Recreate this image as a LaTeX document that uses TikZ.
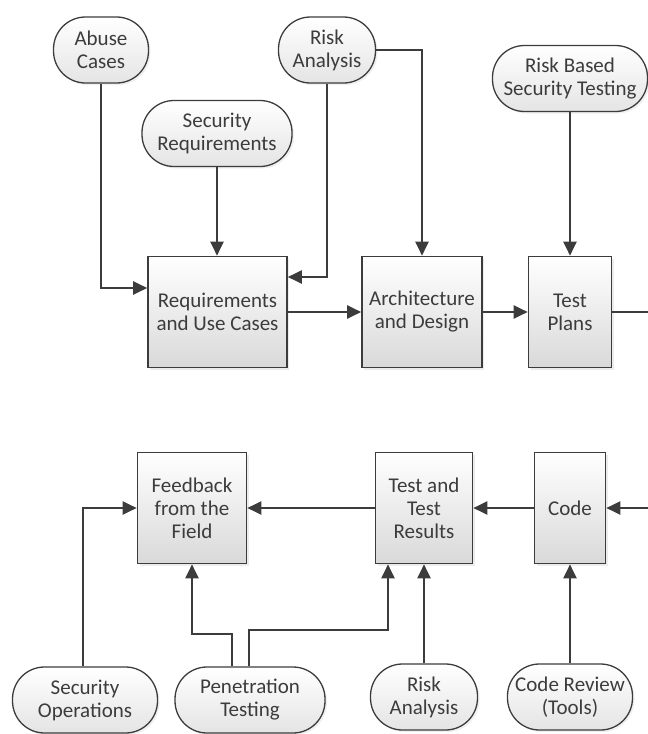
\documentclass[tikz,border=0pt]{standalone}
\usepackage{fontspec}
\setmainfont{Carlito}
\usepackage{tikz}
\usetikzlibrary{arrows.meta, positioning, shadows, calc}

\definecolor{linegray}{HTML}{3C3C3C}
\definecolor{shadegray}{HTML}{D9D9D9}

\tikzset{
  stage/.style={draw=linegray, line width=1.6pt, top color=white, bottom color=shadegray,
    drop shadow={opacity=0.15, shadow xshift=2pt, shadow yshift=-2pt},
    minimum height=111pt, inner sep=2pt, align=center, text=linegray},
  activity/.style={draw=linegray, line width=1.3pt, rounded corners=32pt, top color=white,
    bottom color=shadegray!70, drop shadow={opacity=0.12, shadow xshift=2pt, shadow yshift=-2pt},
    minimum height=66pt, inner sep=2pt, align=center, text=linegray}
}

\begin{document}
\begin{tikzpicture}[x=1pt, y=-1pt, ->, >={Triangle[length=14pt,width=13pt]}, line width=2pt,
    draw=linegray, font=\fontsize{21}{23}\selectfont]
      \useasboundingbox (0,0) rectangle (648,734);

      % top row
      \node[stage, minimum width=139pt] (req) at (217.5,312) {Requirements\\and Use Cases};
      \node[stage, minimum width=120pt] (arch) at (422,312) {Architecture\\and Design};
      \node[stage, minimum width=83pt] (plans) at (570,312) {Test\\Plans};

      \node[activity, minimum width=95pt] (abuse) at (101,50) {Abuse\\Cases};
      \node[activity, minimum width=150pt] (secreq) at (217,133.5) {Security\\Requirements};
      \node[activity, minimum width=97pt] (risktop) at (327,50) {Risk\\Analysis};
      \node[activity, minimum width=155pt] (rbst) at (570,78.5) {Risk Based\\Security Testing};

      % bottom row
      \node[stage, minimum width=109pt] (field) at (192,508) {Feedback\\from the\\Field};
      \node[stage, minimum width=97pt] (results) at (424,508) {Test and\\Test\\Results};
      \node[stage, minimum width=71pt] (code) at (570,508) {Code};

      \node[activity, minimum width=145pt] (secops) at (85,700) {Security\\Operations};
      \node[activity, minimum width=150pt] (pentest) at (250,700) {Penetration\\Testing};
      \node[activity, minimum width=107pt] (riskbot) at (424,697) {Risk\\Analysis};
      \node[activity, minimum width=125pt] (review) at (570,697) {Code Review\\(Tools)};

      \coordinate (outtop) at (648,312);
      \coordinate (inbot) at (648,508);

      \draw (abuse.south) |- ([yshift=24pt]req.west);
      \draw (secreq.south) -- (secreq.south |- req.north);
      \draw (risktop.south) |- ([yshift=35pt]req.east);
      \draw (risktop.east) -| (arch.north);
      \draw (rbst.south) -- (plans.north);
      \draw (req) -- (arch);
      \draw (arch) -- (plans);
      \draw[-] (plans.east) -- (outtop);

      \draw (inbot) -- (code.east);
      \draw (code) -- (results);
      \draw (results) -- (field);
      \draw ([xshift=-2pt]secops.north) |- (field.west);
      \draw ([xshift=-18pt]pentest.north) |- ($(field.south)+(0,70)$) -- (field.south);
      \draw ([xshift=-1pt]pentest.north) |- ($(results.south)+(-36,66)$) -- ([xshift=-36pt]results.south);
      \draw (riskbot.north) -- (results.south);
      \draw (review.north) -- (code.south);
    \end{tikzpicture}
\end{document}
